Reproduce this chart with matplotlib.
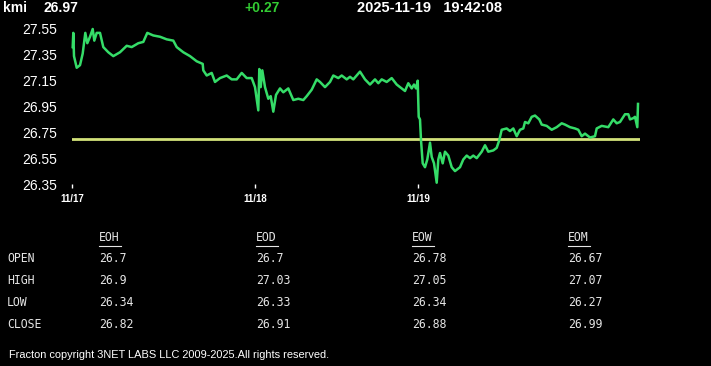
import matplotlib
matplotlib.use("Agg")
import matplotlib.pyplot as plt
from matplotlib.lines import Line2D

# header
symbol = "kmi"
last_price = "26.97"
change = "+0.27"
stamp = "2025-11-19   19:42:08"
prev_close = 26.70

# intraday trace, (session time, price)
trace = [
    (0.7, 27.41), (1.3, 27.52), (2, 27.34), (4.7, 27.25), (8, 27.27), (10.7, 27.36),
    (13.3, 27.52), (15.3, 27.44), (18, 27.49), (20.7, 27.55), (22.3, 27.46), (24.7, 27.52),
    (28, 27.52), (31.3, 27.41), (36.3, 27.37), (41.3, 27.34), (48, 27.37), (54.7, 27.42),
    (59.7, 27.41), (66.3, 27.44), (71.3, 27.45), (75.3, 27.52), (81.3, 27.50), (88, 27.49),
    (94.7, 27.47), (101.3, 27.46), (104.7, 27.41), (111.3, 27.37), (118, 27.34),
    (124.7, 27.30), (130.7, 27.28), (131.3, 27.23), (134.7, 27.19), (139.7, 27.21),
    (143, 27.14), (148, 27.17), (154.7, 27.19), (159.7, 27.16), (164.7, 27.16),
    (169.7, 27.21), (174.7, 27.17), (179.7, 27.17), (183, 27.10), (186.3, 26.92),
    (187.3, 27.24), (188.7, 27.10), (190.3, 27.23), (193, 27.10), (196.3, 27.01),
    (198.7, 27.03), (201.3, 26.91), (204, 27.04), (208, 27.09), (211.3, 27.06),
    (216.3, 27.09), (221.3, 27.00), (226.3, 27.01), (231.3, 27.00), (234.7, 27.03),
    (239.7, 27.08), (244.7, 27.16), (248, 27.14), (253, 27.10), (258, 27.14),
    (261.3, 27.19), (266.3, 27.17), (269.7, 27.19), (274.7, 27.16), (278, 27.18),
    (281.3, 27.16), (288, 27.22), (293, 27.16), (298, 27.12), (303, 27.16), (306.3, 27.13),
    (309.7, 27.16), (314.7, 27.14), (319.7, 27.17), (324.7, 27.12), (329.7, 27.09),
    (333, 27.07), (336.3, 27.13), (339.7, 27.09), (342, 27.12), (344, 27.09),
    (345.7, 27.15), (346.7, 26.87), (348, 26.85), (349, 26.69), (350.7, 26.51),
    (353, 26.48), (355.3, 26.54), (358, 26.67), (359.7, 26.56), (362, 26.51),
    (364.7, 26.36), (366.3, 26.54), (368, 26.59), (370.7, 26.51), (373, 26.60),
    (376.3, 26.57), (379.7, 26.48), (383, 26.45), (388, 26.48), (391.3, 26.54),
    (394.7, 26.57), (398, 26.55), (401.3, 26.57), (404.7, 26.55), (409.7, 26.60),
    (413, 26.65), (416.3, 26.60), (421.3, 26.61), (424.7, 26.63), (427.3, 26.69),
    (429.7, 26.77), (434.7, 26.78), (438, 26.76), (441.3, 26.78), (444.7, 26.72),
    (448, 26.77), (451.3, 26.78), (453, 26.83), (456.3, 26.82), (459.7, 26.87),
    (463, 26.88), (467.3, 26.85), (469.7, 26.81), (474.7, 26.80), (479.7, 26.77),
    (484.7, 26.79), (489.7, 26.82), (493, 26.81), (498, 26.79), (503, 26.78),
    (506.3, 26.77), (509.7, 26.72), (513, 26.74), (518, 26.71), (523, 26.72),
    (524.7, 26.78), (529.7, 26.80), (536.3, 26.79), (541.3, 26.85), (544.7, 26.82),
    (548, 26.83), (553, 26.89), (556.3, 26.89), (558, 26.85), (561.3, 26.86),
    (563, 26.87), (565.3, 26.79), (566, 26.97),
]
t = [p[0] for p in trace]
price = [p[1] for p in trace]

day_ticks = [0, 183, 346]
day_labels = ["11/17", "11/18", "11/19"]
y_ticks = [26.35, 26.55, 26.75, 26.95, 27.15, 27.35, 27.55]

# summary table
periods = ["EOH", "EOD", "EOW", "EOM"]
rows = ["OPEN", "HIGH", "LOW", "CLOSE"]
table = [["26.7", "26.7", "26.78", "26.67"],
         ["26.9", "27.03", "27.05", "27.07"],
         ["26.34", "26.33", "26.34", "26.27"],
         ["26.82", "26.91", "26.88", "26.99"]]

W, H = 711, 366
fig = plt.figure(figsize=(W / 100, H / 100), dpi=100, facecolor="black")

ax = fig.add_axes([72 / W, 1 - 184 / H, 568 / W, 155 / H], facecolor="black")
ax.plot(t, price, color="#35dc68", lw=1.8, clip_on=False, zorder=3)
ax.axhline(prev_close, color="#d2e27a", lw=2, zorder=2)
ax.set_xlim(0, 568)
ax.set_ylim(26.35, 27.55)
for s in ax.spines.values():
    s.set_visible(False)
ax.set_yticks(y_ticks)
ax.set_yticklabels([f"{v:.2f}" for v in y_ticks])
ax.tick_params(axis="y", length=0, pad=11, colors="white", labelsize=10)
for lbl in ax.get_yticklabels():
    lbl.set_family("Liberation Sans")
ax.set_xticks(day_ticks)
ax.set_xticklabels(day_labels)
ax.tick_params(axis="x", length=3, width=1, color="white", colors="white",
               labelsize=7, pad=4)
for lbl in ax.get_xticklabels():
    lbl.set_family("Liberation Sans")
    lbl.set_fontweight("bold")

def px(x, y):
    return x / W, 1 - y / H

# header row
hdr = dict(color="white", fontsize=10, fontweight="bold", family="Liberation Sans", va="center")
fig.text(*px(3, 8), symbol, **hdr)
fig.text(*px(43, 8), last_price, **hdr)
fig.text(*px(244, 8), change, **{**hdr, "color": "#33cc33"})
fig.text(*px(357, 8), stamp, **{**hdr, "fontsize": 10.5})

# table
mono = dict(color="#e6e6e6", fontsize=8.3, family="DejaVu Sans Mono", va="center")
col_x = [99, 256, 412, 568]
row_y = [259, 281, 302, 324]
for cx, name in zip(col_x, periods):
    fig.text(*px(cx, 238), name, **mono)
    fig.add_artist(Line2D([cx / W, (cx + 22) / W], [1 - 245.5 / H] * 2,
                          color="#e6e6e6", lw=0.8, transform=fig.transFigure))
for ry, rname, vals in zip(row_y, rows, table):
    fig.text(*px(7, ry), rname, **mono)
    for cx, v in zip(col_x, vals):
        fig.text(*px(cx, ry), v, **mono)

fig.text(*px(9, 355), "Fracton copyright 3NET LABS LLC 2009-2025.All rights reserved.",
         color="white", fontsize=7.9, family="Liberation Sans", va="center")

fig.savefig("out.png", dpi=100, facecolor="black")
